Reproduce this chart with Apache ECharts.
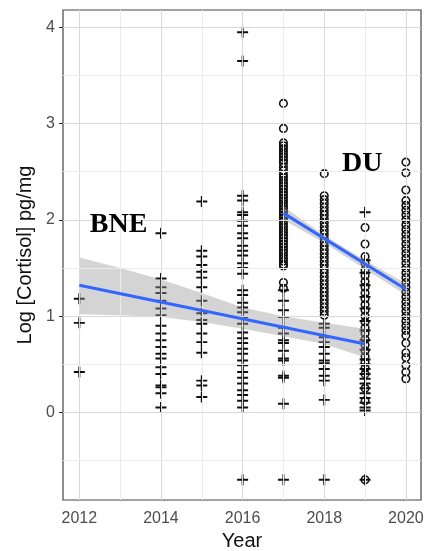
<!DOCTYPE html>
<html>
<head>
<meta charset="utf-8">
<script src="https://cdn.jsdelivr.net/npm/echarts@6/dist/echarts.min.js"></script>
<style>
html,body{margin:0;padding:0;background:#fff;}
#chart{width:435px;height:551px;}
</style>
</head>
<body>
<div id="chart"></div>
<script>
// ---- tick values ----
var xMajorTicks = [2012, 2014, 2016, 2018, 2020];
var xMinorTicks = [2013, 2015, 2017, 2019];
var yMajorTicks = [0, 1, 2, 3, 4];
var yMinorTicks = [-0.5, 0.5, 1.5, 2.5, 3.5];

// ---- BNE observations (plus markers) ----
var bne2012 = [1.18, 0.93, 0.42];
var bne2014 = [1.86, 1.39, 1.30, 1.24, 1.16, 1.08, 1.01, 0.90, 0.82, 0.75, 0.68, 0.61, 0.56, 0.47, 0.40, 0.28, 0.26, 0.20, 0.05];
var bne2015 = [2.19, 1.68, 1.62, 1.53, 1.46, 1.40, 1.30, 1.16, 1.03, 0.96, 0.92, 0.82, 0.73, 0.62, 0.33, 0.28, 0.16];
var bne2016 = [3.95, 3.65, 2.25, 2.20, 2.08, 2.05, 1.99, 1.94, 1.86, 1.81, 1.73, 1.68, 1.63, 1.55, 1.50, 1.44, 1.27, 1.22, 1.14, 1.09, 1.04, 0.99, 0.92, 0.83, 0.77, 0.72, 0.66, 0.61, 0.54, 0.49, 0.42, 0.36, 0.30, 0.23, 0.18, 0.12, 0.05, -0.70];
var bne2017 = [1.27, 1.16, 1.06, 0.99, 0.88, 0.82, 0.75, 0.72, 0.64, 0.56, 0.54, 0.38, 0.36, 0.09, -0.70];
var bne2018 = [0.92, 0.88, 0.78, 0.73, 0.68, 0.61, 0.54, 0.51, 0.45, 0.38, 0.33, 0.13, -0.70];
var bne2019 = [2.08, 1.58, 1.45, 1.32, 1.20, 1.08, 0.95, 0.85, 0.75, 0.65, 0.55, 0.50, 0.45, 0.40, 0.35, 0.30, 0.25, 0.20, 0.15, 0.10, 0.05, 0.02, -0.70];

// ---- DU observations (open circles) ----
var du2017 = [3.21, 2.95, 2.80, 2.77, 2.74, 2.71, 2.68, 2.65, 2.62, 2.59, 2.55, 2.51, 2.47, 2.44, 2.41, 2.38, 2.35, 2.32, 2.29, 2.26, 2.23, 2.20, 2.17, 2.14, 2.11, 2.08, 2.05, 2.02, 1.99, 1.96, 1.93, 1.90, 1.87, 1.84, 1.81, 1.78, 1.75, 1.72, 1.69, 1.66, 1.63, 1.60, 1.57, 1.54, 1.52, 1.35, 1.29];
var du2018 = [2.48, 2.25, 2.21, 2.17, 2.13, 2.09, 2.05, 2.01, 1.97, 1.93, 1.89, 1.85, 1.81, 1.77, 1.73, 1.69, 1.65, 1.61, 1.57, 1.53, 1.49, 1.45, 1.41, 1.37, 1.33, 1.29, 1.25, 1.21, 1.17, 1.13, 1.09, 1.05, 1.01];
var du2019 = [1.92, 1.75, 1.62, 1.55, 1.48, 1.42, 1.36, 1.30, 1.24, 1.18, 1.12, 1.06, 1.00, 0.94, 0.88, 0.82, 0.76, 0.70, 0.64, 0.58, 0.52, 0.46, 0.40, 0.25, 0.12, -0.70];
var du2020 = [2.60, 2.49, 2.31, 2.20, 2.15, 2.10, 2.05, 2.00, 1.95, 1.90, 1.85, 1.80, 1.75, 1.70, 1.65, 1.60, 1.55, 1.50, 1.45, 1.40, 1.35, 1.30, 1.25, 1.20, 1.15, 1.10, 1.05, 1.00, 0.95, 0.90, 0.85, 0.80, 0.72, 0.62, 0.57, 0.49, 0.42, 0.35];

// ---- fitted trends and confidence bands ----
var bneFitYears = [2012, 2019];
var bneFit = [1.32, 0.71];
var bneBandYears = [2012, 2013, 2014, 2015, 2016, 2017, 2018, 2019];
var bneUpper = [1.61, 1.50, 1.38, 1.24, 1.09, 1.00, 0.93, 0.87];
var bneLower = [1.02, 1.01, 0.99, 0.94, 0.87, 0.79, 0.71, 0.57];

var duFitYears = [2017, 2020];
var duFit = [2.07, 1.28];
var duBandYears = [2017, 2018, 2019, 2020];
var duUpper = [2.14, 1.84, 1.58, 1.34];
var duLower = [2.00, 1.76, 1.49, 1.22];

// ---- annotation labels (data coords) ----
var labelTexts = ['BNE', 'DU'];
var labelCoords = [[2012.96, 1.95], [2018.93, 2.58]];

function pairs(year, vals) { return vals.map(function (v) { return [year, v]; }); }
function zip(xs, ys) { return xs.map(function (x, i) { return [x, ys[i]]; }); }

var bneData = [].concat(pairs(2012, bne2012), pairs(2014, bne2014), pairs(2015, bne2015),
  pairs(2016, bne2016), pairs(2017, bne2017), pairs(2018, bne2018), pairs(2019, bne2019));
var duData = [].concat(pairs(2017, du2017), pairs(2018, du2018), pairs(2019, du2019), pairs(2020, du2020));

function bandSeries(years, upper, lower) {
  return {
    type: 'custom',
    z: 4,
    silent: true,
    clip: true,
    data: [[years[0], upper[0]]],
    renderItem: function (params, api) {
      var pts = [];
      for (var i = 0; i < years.length; i++) pts.push(api.coord([years[i], upper[i]]));
      for (var j = years.length - 1; j >= 0; j--) pts.push(api.coord([years[j], lower[j]]));
      return { type: 'polygon', shape: { points: pts }, style: { fill: 'rgba(153,153,153,0.42)' } };
    }
  };
}

var gridLines = [];
xMajorTicks.forEach(function (v) { gridLines.push({ xAxis: v, lineStyle: { type: 'solid', color: '#d9d9d9', width: 1 } }); });
xMinorTicks.forEach(function (v) { gridLines.push({ xAxis: v, lineStyle: { type: 'solid', color: '#ebebeb', width: 1 } }); });
yMajorTicks.forEach(function (v) { gridLines.push({ yAxis: v, lineStyle: { type: 'solid', color: '#d9d9d9', width: 1 } }); });
yMinorTicks.forEach(function (v) { gridLines.push({ yAxis: v, lineStyle: { type: 'solid', color: '#ebebeb', width: 1 } }); });

var plusPath = 'path://M4.1,0H5.9V4.1H10V5.9H5.9V10H4.1V5.9H0V4.1H4.1Z';
var tickFont = { fontFamily: 'Liberation Sans, Arial, sans-serif', fontSize: 16, color: '#4d4d4d' };

var chart = echarts.init(document.getElementById('chart'), null, { renderer: 'canvas' });
chart.setOption({
  animation: false,
  backgroundColor: '#ffffff',
  grid: {
    left: 63, top: 10, right: 14, bottom: 51,
    show: true, borderColor: '#444', borderWidth: 1.2, backgroundColor: '#fff',
    containLabel: false, outerBoundsMode: 'none'
  },
  xAxis: {
    type: 'value', min: 2011.6, max: 2020.37,
    name: 'Year', nameLocation: 'middle', nameGap: 31,
    nameTextStyle: { fontFamily: 'Liberation Sans, Arial, sans-serif', fontSize: 20, color: '#111' },
    axisLine: { show: false },
    axisTick: { show: true, length: 4, lineStyle: { color: '#333' }, customValues: xMajorTicks },
    axisLabel: Object.assign({ margin: 11, customValues: xMajorTicks, formatter: function (v) { return String(v); } }, tickFont),
    splitLine: { show: false }
  },
  yAxis: {
    type: 'value', min: -0.91, max: 4.18,
    name: 'Log [Cortisol] pg/mg', nameLocation: 'middle', nameGap: 19, nameRotate: 90,
    nameTextStyle: { fontFamily: 'Liberation Sans, Arial, sans-serif', fontSize: 20, color: '#111' },
    axisLine: { show: false },
    axisTick: { show: true, length: 4, lineStyle: { color: '#333' }, customValues: yMajorTicks },
    axisLabel: Object.assign({ margin: 8, customValues: yMajorTicks, formatter: function (v) { return String(v); } }, tickFont),
    splitLine: { show: false }
  },
  series: [
    {
      type: 'line', data: [], z: 1, silent: true,
      markLine: { silent: true, symbol: ['none', 'none'], label: { show: false }, animation: false, data: gridLines }
    },
    {
      name: 'BNE', type: 'scatter', z: 2, data: bneData,
      symbol: plusPath, symbolSize: 11,
      itemStyle: { color: '#111', opacity: 1 }
    },
    {
      name: 'DU', type: 'scatter', z: 3, data: duData,
      symbol: 'circle', symbolSize: 7.5,
      itemStyle: { color: 'rgba(0,0,0,0)', borderColor: '#111', borderWidth: 1.6, opacity: 1 }
    },
    bandSeries(bneBandYears, bneUpper, bneLower),
    bandSeries(duBandYears, duUpper, duLower),
    {
      type: 'line', z: 5, data: zip(bneFitYears, bneFit), symbol: 'none', silent: true,
      lineStyle: { color: '#3366FF', width: 3 }
    },
    {
      type: 'line', z: 5, data: zip(duFitYears, duFit), symbol: 'none', silent: true,
      lineStyle: { color: '#3366FF', width: 3 }
    },
    {
      type: 'scatter', z: 6, silent: true, symbolSize: 0,
      itemStyle: { opacity: 1 },
      data: labelCoords.map(function (c, i) { return { value: c, name: labelTexts[i] }; }),
      label: {
        show: true, position: 'inside', formatter: '{b}', textBorderWidth: 0, opacity: 1,
        fontFamily: 'Liberation Serif, Times New Roman, serif', fontWeight: 'bold', fontSize: 28, color: '#000'
      }
    }
  ]
});
</script>
</body>
</html>
